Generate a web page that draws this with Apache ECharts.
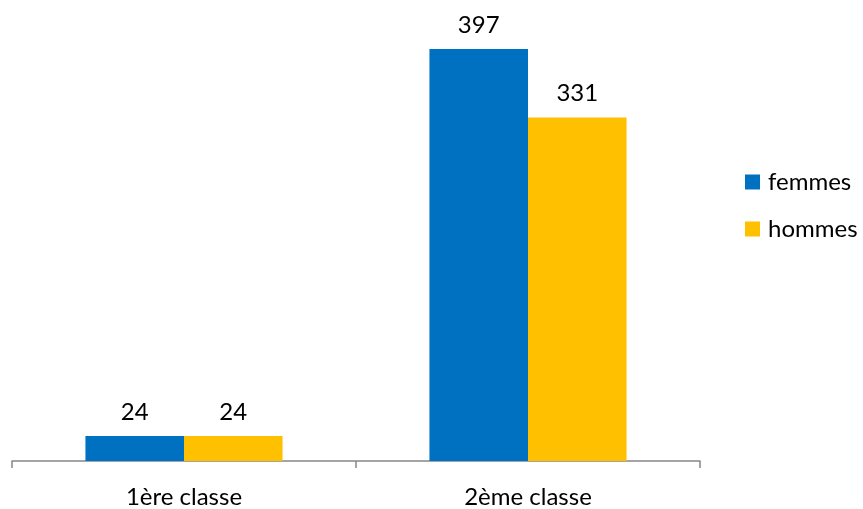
<!DOCTYPE html>
<html>
<head>
<meta charset="utf-8">
<script src="https://cdn.jsdelivr.net/npm/echarts@6/dist/echarts.min.js"></script>
<style>
  html, body { margin: 0; padding: 0; background: #ffffff; }
  #chart { width: 863px; height: 509px; }
</style>
</head>
<body>
<div id="chart"></div>
<script>
// Passagers par classe et par sexe
const categories = ['1ère classe', '2ème classe'];
const femmes = [24, 397];
const hommes = [24, 331];
const seriesNames = ['femmes', 'hommes'];

const FONT = 'Lato';
const FONT_SIZE = 24;
const chart = echarts.init(document.getElementById('chart'), null, { renderer: 'canvas' });

const labelStyle = {
  show: true,
  position: 'top',
  distance: 12,
  color: '#000000',
  fontFamily: FONT,
  fontSize: FONT_SIZE
};

chart.setOption({
  animation: false,
  backgroundColor: '#ffffff',
  grid: { left: 12, right: 163, top: 46, bottom: 48, containLabel: false },
  legend: {
    orient: 'vertical',
    left: 745,
    top: 170,
    padding: 0,
    itemWidth: 15,
    itemHeight: 15,
    itemGap: 23,
    icon: 'rect',
    textStyle: { fontFamily: FONT, fontSize: FONT_SIZE, color: '#000000', padding: [0, 0, 0, 3] },
    data: seriesNames
  },
  xAxis: {
    type: 'category',
    data: categories,
    axisLine: { lineStyle: { color: '#868686', width: 1.5 } },
    axisTick: { show: true, length: 7, alignWithLabel: false, lineStyle: { color: '#868686', width: 1.5 } },
    axisLabel: { fontFamily: FONT, fontSize: FONT_SIZE, color: '#000000', margin: 24 }
  },
  yAxis: {
    type: 'value',
    min: 0,
    max: 400,
    show: false,
    splitLine: { show: false }
  },
  series: [
    {
      name: seriesNames[0],
      type: 'bar',
      data: femmes,
      barGap: '0%',
      barCategoryGap: '42.7%',
      itemStyle: { color: '#0070C0' },
      label: labelStyle
    },
    {
      name: seriesNames[1],
      type: 'bar',
      data: hommes,
      barGap: '0%',
      barCategoryGap: '42.7%',
      itemStyle: { color: '#FFC000' },
      label: labelStyle
    }
  ]
});
</script>
</body>
</html>
